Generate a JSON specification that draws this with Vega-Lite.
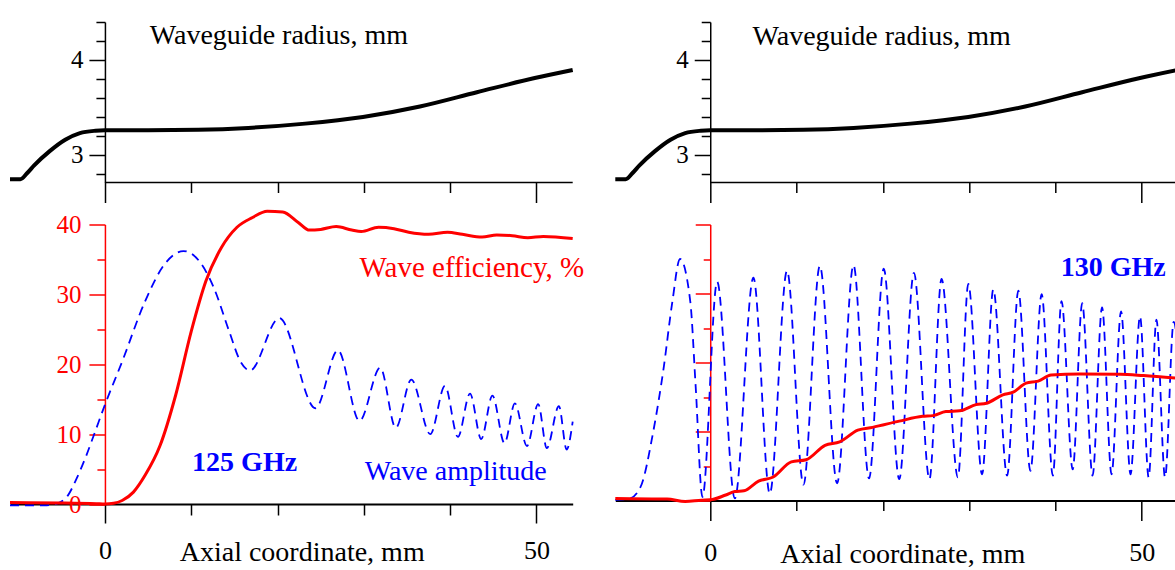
{
  "$schema": "https://vega.github.io/schema/vega-lite/v6.json",
  "padding": {"left": 2, "top": 10, "right": 0, "bottom": 0},
  "background": "white",
  "bounds": "flush",
  "columns": 2,
  "spacing": {"row": 41.5, "column": 42.3},
  "config": {
    "view": {"stroke": null},
    "font": "Liberation Serif",
    "axis": {"grid": false, "labelFont": "Liberation Serif", "titleFont": "Liberation Serif", "labelOverlap": false, "labelFlush": false, "tickCount": 60}
  },
  "datasets": {
    "radius": [
      {"x": -11, "r": 2.745}, {"x": -9.8, "r": 2.745}, {"x": -9.0, "r": 2.81}, {"x": -8.2, "r": 2.89},
      {"x": -6.4, "r": 3.04}, {"x": -4.6, "r": 3.16}, {"x": -2.9, "r": 3.23}, {"x": -1.1, "r": 3.255},
      {"x": 0, "r": 3.26}, {"x": 5, "r": 3.26}, {"x": 10.8, "r": 3.265}, {"x": 16.6, "r": 3.285},
      {"x": 23.2, "r": 3.33}, {"x": 29.9, "r": 3.4}, {"x": 36.5, "r": 3.51}, {"x": 43.1, "r": 3.66},
      {"x": 49.8, "r": 3.81}, {"x": 54.2, "r": 3.895}
    ],
    "eff125": [
      {"x": -11, "v": 0.2}, {"x": -5, "v": 0.15}, {"x": -1, "v": 0.05}, {"x": 0, "v": 0}, {"x": 1, "v": 0.1},
      {"x": 2, "v": 0.5}, {"x": 3.3, "v": 1.7}, {"x": 4.65, "v": 4.1}, {"x": 6.4, "v": 8.4}, {"x": 8.2, "v": 15.6},
      {"x": 10, "v": 24.7}, {"x": 11.7, "v": 31.9}, {"x": 13.5, "v": 36.7}, {"x": 15.3, "v": 39.6}, {"x": 17.1, "v": 41},
      {"x": 18.8, "v": 41.9}, {"x": 20.6, "v": 41.8}, {"x": 22.4, "v": 40.3}, {"x": 23.7, "v": 39.2}, {"x": 25, "v": 39.3},
      {"x": 26.8, "v": 39.7}, {"x": 28.6, "v": 39.2}, {"x": 29.7, "v": 39}, {"x": 31.7, "v": 39.6}, {"x": 33.5, "v": 39.4},
      {"x": 35.2, "v": 38.9}, {"x": 37.5, "v": 38.6}, {"x": 39.7, "v": 38.9}, {"x": 41.4, "v": 38.6}, {"x": 43.7, "v": 38.2},
      {"x": 45.4, "v": 38.5}, {"x": 47.2, "v": 38.4}, {"x": 49, "v": 38.1}, {"x": 50.8, "v": 38.3}, {"x": 54.2, "v": 38}
    ],
    "amp125": [
      {"x": -11, "v": -0.2}, {"x": -7, "v": -0.2}, {"x": -5.5, "v": 0.1}, {"x": -4.3, "v": 1.2}, {"x": -3.3, "v": 3.6},
      {"x": -2.2, "v": 6.8}, {"x": -1.3, "v": 9.8}, {"x": 0, "v": 14.2}, {"x": 2, "v": 20.4}, {"x": 4.65, "v": 29},
      {"x": 6.9, "v": 34.3}, {"x": 9.1, "v": 36.2}, {"x": 10.9, "v": 34.8}, {"x": 12.6, "v": 31}, {"x": 14.4, "v": 24.7},
      {"x": 15.7, "v": 20.4}, {"x": 16.8, "v": 19.1}, {"x": 20.2, "v": 26.6}, {"x": 24.4, "v": 13.7}, {"x": 27.0, "v": 22.0},
      {"x": 29.5, "v": 11.9}, {"x": 31.9, "v": 19.5}, {"x": 33.7, "v": 10.9}, {"x": 35.5, "v": 17.8}, {"x": 37.7, "v": 10.0},
      {"x": 39.4, "v": 16.9}, {"x": 40.9, "v": 9.6}, {"x": 42.3, "v": 15.8}, {"x": 43.6, "v": 9.3}, {"x": 44.9, "v": 15.5},
      {"x": 46.3, "v": 8.7}, {"x": 47.5, "v": 14.4}, {"x": 48.9, "v": 8.3}, {"x": 50.2, "v": 14.3}, {"x": 51.2, "v": 8.0},
      {"x": 52.6, "v": 14.0}, {"x": 53.5, "v": 7.8}, {"x": 54.2, "v": 11.8}
    ],
    "eff130": [
      {"x": -11, "v": 0.3}, {"x": -5, "v": 0.2}, {"x": -2.9, "v": -0.15}, {"x": -1, "v": 0.05}, {"x": 0, "v": 0.1},
      {"x": 1.8, "v": 0.8}, {"x": 2.85, "v": 1.3}, {"x": 3.9, "v": 1.4}, {"x": 5.6, "v": 2.8}, {"x": 7.3, "v": 3.4},
      {"x": 9.4, "v": 5.6}, {"x": 11.1, "v": 5.9}, {"x": 13.3, "v": 8.0}, {"x": 15.0, "v": 8.5}, {"x": 17.1, "v": 10.2},
      {"x": 18.8, "v": 10.6}, {"x": 21.9, "v": 11.5}, {"x": 24.6, "v": 12.2}, {"x": 25.8, "v": 12.3}, {"x": 27.3, "v": 12.9},
      {"x": 28.9, "v": 13.0}, {"x": 30.8, "v": 13.9}, {"x": 32.0, "v": 14.1}, {"x": 33.9, "v": 15.3}, {"x": 35.1, "v": 15.7},
      {"x": 36.6, "v": 17.0}, {"x": 38.0, "v": 17.3}, {"x": 39.5, "v": 18.2}, {"x": 42.8, "v": 18.35}, {"x": 47.5, "v": 18.3},
      {"x": 50.2, "v": 18.1}, {"x": 54.2, "v": 17.7}
    ],
    "amp130": [
      {"x": -11, "v": 0.1}, {"x": -9.5, "v": 0.2}, {"x": -8.1, "v": 1.9}, {"x": -6.6, "v": 10}, {"x": -5.4, "v": 19.2},
      {"x": -4.4, "v": 28.7}, {"x": -3.5, "v": 35.0}, {"x": -2.3, "v": 28.7}, {"x": -1.7, "v": 16.8}, {"x": -0.9, "v": 0.5},
      {"x": 0.8, "v": 31.7}, {"x": 2.85, "v": 0.3}, {"x": 5.0, "v": 32.3}, {"x": 6.9, "v": 1.0}, {"x": 8.9, "v": 33.3},
      {"x": 10.8, "v": 2.3}, {"x": 12.7, "v": 34.0}, {"x": 14.7, "v": 2.5}, {"x": 16.6, "v": 34.1}, {"x": 18.4, "v": 3.2},
      {"x": 20.1, "v": 33.6}, {"x": 21.9, "v": 3.1}, {"x": 23.6, "v": 33.0}, {"x": 25.4, "v": 3.1}, {"x": 26.8, "v": 32.1},
      {"x": 28.7, "v": 3.35}, {"x": 29.9, "v": 31.4}, {"x": 31.5, "v": 3.8}, {"x": 32.8, "v": 30.6}, {"x": 34.4, "v": 3.6},
      {"x": 35.7, "v": 30.4}, {"x": 37.1, "v": 4.3}, {"x": 38.4, "v": 29.9}, {"x": 39.7, "v": 3.6}, {"x": 40.7, "v": 28.9},
      {"x": 42.0, "v": 4.5}, {"x": 43.1, "v": 28.6}, {"x": 44.3, "v": 3.6}, {"x": 45.4, "v": 28.0}, {"x": 46.5, "v": 3.8},
      {"x": 47.6, "v": 27.4}, {"x": 48.7, "v": 3.8}, {"x": 49.8, "v": 26.7}, {"x": 50.8, "v": 3.35}, {"x": 51.7, "v": 26.2},
      {"x": 52.7, "v": 3.35}, {"x": 53.7, "v": 25.9}, {"x": 54.2, "v": 22}
    ]
  },
  "concat": [
    {
      "width": 562.7, "height": 160.5,
      "layer": [
        {
          "data": {"name": "radius"},
          "mark": {"type": "line", "color": "black", "strokeWidth": 4, "interpolate": "monotone"},
          "encoding": {
            "x": {"field": "x", "type": "quantitative", "scale": {"domain": [-11, 54.2], "nice": false, "zero": false},
              "axis": {"title": null, "domain": false, "labels": false, "values": [0, 10, 20, 30, 40, 50], "tickColor": "black", "tickWidth": 1.5,
                "tickSize": {"condition": {"test": "datum.value === 0 || datum.value === 50", "value": 20}, "value": 10}}},
            "y": {"field": "r", "type": "quantitative", "scale": {"domain": [2.71, 4.4], "nice": false, "zero": false},
              "axis": {"title": null, "offset": -94.93, "domainColor": "black", "domainWidth": 1.5, "tickColor": "black", "tickWidth": 1.5,
                "values": [2.8, 3, 3.2, 3.4, 3.6, 3.8, 4, 4.2, 4.4],
                "tickSize": {"condition": {"test": "datum.value === 3 || datum.value === 4", "value": 16}, "value": 9},
                "labelExpr": "datum.value === 3 ? '3' : datum.value === 4 ? '4' : ''",
                "labelFontSize": 25, "labelColor": "black", "labelPadding": 6}}
          }
        },
        {
          "data": {"values": [{"x": 0, "x2": 54.2, "y": 2.71}]},
          "mark": {"type": "rule", "color": "black", "strokeWidth": 1.5},
          "encoding": {"x": {"field": "x", "type": "quantitative"}, "x2": {"field": "x2"}, "y": {"field": "y", "type": "quantitative"}}
        },
        {
          "data": {"values": [{"x": 5.2, "y": 4.167, "label": "Waveguide radius, mm"}]},
          "mark": {"type": "text", "align": "left", "baseline": "alphabetic", "fontSize": 28, "font": "Liberation Serif", "color": "black"},
          "encoding": {"x": {"field": "x", "type": "quantitative"}, "y": {"field": "y", "type": "quantitative"}, "text": {"field": "label"}}
        }
      ]
    },
    {
      "width": 562.7, "height": 160.5,
      "layer": [
        {
          "data": {"name": "radius"},
          "mark": {"type": "line", "color": "black", "strokeWidth": 4, "interpolate": "monotone"},
          "encoding": {
            "x": {"field": "x", "type": "quantitative", "scale": {"domain": [-11, 54.2], "nice": false, "zero": false},
              "axis": {"title": null, "domain": false, "labels": false, "values": [0, 10, 20, 30, 40, 50], "tickColor": "black", "tickWidth": 1.5,
                "tickSize": {"condition": {"test": "datum.value === 0 || datum.value === 50", "value": 20}, "value": 10}}},
            "y": {"field": "r", "type": "quantitative", "scale": {"domain": [2.71, 4.4], "nice": false, "zero": false},
              "axis": {"title": null, "offset": -94.93, "domainColor": "black", "domainWidth": 1.5, "tickColor": "black", "tickWidth": 1.5,
                "values": [2.8, 3, 3.2, 3.4, 3.6, 3.8, 4, 4.2, 4.4],
                "tickSize": {"condition": {"test": "datum.value === 3 || datum.value === 4", "value": 16}, "value": 9},
                "labelExpr": "datum.value === 3 ? '3' : datum.value === 4 ? '4' : ''",
                "labelFontSize": 25, "labelColor": "black", "labelPadding": 6}}
          }
        },
        {
          "data": {"values": [{"x": 0, "x2": 54.2, "y": 2.71}]},
          "mark": {"type": "rule", "color": "black", "strokeWidth": 1.5},
          "encoding": {"x": {"field": "x", "type": "quantitative"}, "x2": {"field": "x2"}, "y": {"field": "y", "type": "quantitative"}}
        },
        {
          "data": {"values": [{"x": 4.9, "y": 4.157, "label": "Waveguide radius, mm"}]},
          "mark": {"type": "text", "align": "left", "baseline": "alphabetic", "fontSize": 28, "font": "Liberation Serif", "color": "black"},
          "encoding": {"x": {"field": "x", "type": "quantitative"}, "y": {"field": "y", "type": "quantitative"}, "text": {"field": "label"}}
        }
      ]
    },
    {
      "width": 562.7, "height": 279.5,
      "layer": [
        {
          "data": {"name": "amp125"},
          "mark": {"type": "line", "color": "#0000ff", "strokeWidth": 1.8, "strokeDash": [9, 6], "interpolate": "monotone"},
          "encoding": {
            "x": {"field": "x", "type": "quantitative", "scale": {"domain": [-11, 54.2], "nice": false, "zero": false},
              "axis": {"title": "Axial coordinate, mm", "values": [0, 10, 20, 30, 40, 50], "domainColor": "black", "domainWidth": 2,
                "tickColor": "black", "tickWidth": 1.5,
                "tickSize": {"condition": {"test": "datum.value === 0 || datum.value === 50", "value": 19}, "value": 11},
                "labelExpr": "datum.value === 0 ? '0' : datum.value === 50 ? '50' : ''",
                "labelFontSize": 26, "labelColor": "black", "labelBaseline": "alphabetic", "labelPadding": 35, "labelDx": -3,
                "titleFontSize": 28, "titleFontWeight": "normal", "titleColor": "black", "titleX": 291.7, "titleY": 56,
                "titleBaseline": "alphabetic", "titleAlign": "center"}},
            "y": {"field": "v", "type": "quantitative", "scale": {"domain": [0, 40], "nice": false, "zero": false},
              "axis": {"title": null, "offset": -94.93, "domainColor": "#ff0000", "domainWidth": 1.5, "tickColor": "#ff0000", "tickWidth": 1.5,
                "values": [0, 5, 10, 15, 20, 25, 30, 35, 40],
                "tickSize": {"condition": {"test": "datum.value % 10 === 0", "value": 16}, "value": 8},
                "labelExpr": "datum.value % 10 === 0 ? format(datum.value, 'd') : ''",
                "labelFontSize": 25, "labelColor": "#ff0000", "labelPadding": 8}}
          }
        },
        {
          "data": {"name": "eff125"},
          "mark": {"type": "line", "color": "#ff0000", "strokeWidth": 3, "interpolate": "monotone"},
          "encoding": {"x": {"field": "x", "type": "quantitative"}, "y": {"field": "v", "type": "quantitative"}}
        },
        {
          "data": {"values": [{"x": 29.5, "y": 32.5, "label": "Wave efficiency, %"}]},
          "mark": {"type": "text", "align": "left", "baseline": "alphabetic", "fontSize": 29, "font": "Liberation Serif", "color": "#ff0000"},
          "encoding": {"x": {"field": "x", "type": "quantitative"}, "y": {"field": "y", "type": "quantitative"}, "text": {"field": "label"}}
        },
        {
          "data": {"values": [{"x": 30.1, "y": 3.47, "label": "Wave amplitude"}]},
          "mark": {"type": "text", "align": "left", "baseline": "alphabetic", "fontSize": 28, "font": "Liberation Serif", "color": "#0000ff"},
          "encoding": {"x": {"field": "x", "type": "quantitative"}, "y": {"field": "y", "type": "quantitative"}, "text": {"field": "label"}}
        },
        {
          "data": {"values": [{"x": 10.1, "y": 4.67, "label": "125 GHz"}]},
          "mark": {"type": "text", "align": "left", "baseline": "alphabetic", "fontSize": 28, "font": "Liberation Serif", "fontWeight": "bold", "color": "#0000ff"},
          "encoding": {"x": {"field": "x", "type": "quantitative"}, "y": {"field": "y", "type": "quantitative"}, "text": {"field": "label"}}
        }
      ]
    },
    {
      "width": 562.7, "height": 276,
      "layer": [
        {
          "data": {"name": "amp130"},
          "mark": {"type": "line", "color": "#0000ff", "strokeWidth": 1.8, "strokeDash": [9, 6], "interpolate": "monotone"},
          "encoding": {
            "x": {"field": "x", "type": "quantitative", "scale": {"domain": [-11, 54.2], "nice": false, "zero": false},
              "axis": {"title": "Axial coordinate, mm", "values": [0, 10, 20, 30, 40, 50], "domainColor": "black", "domainWidth": 2,
                "tickColor": "black", "tickWidth": 1.5,
                "tickSize": {"condition": {"test": "datum.value === 0 || datum.value === 50", "value": 20}, "value": 10},
                "labelExpr": "datum.value === 0 ? '0' : datum.value === 50 ? '50' : ''",
                "labelFontSize": 26, "labelColor": "black", "labelBaseline": "alphabetic", "labelPadding": 40, "labelDx": -3,
                "titleFontSize": 28, "titleFontWeight": "normal", "titleColor": "black", "titleX": 287, "titleY": 61.7,
                "titleBaseline": "alphabetic", "titleAlign": "center"}},
            "y": {"field": "v", "type": "quantitative", "scale": {"domain": [0, 40], "nice": false, "zero": false},
              "axis": {"title": null, "offset": -94.93, "domainColor": "#ff0000", "domainWidth": 1.5, "tickColor": "#ff0000", "tickWidth": 1.5,
                "values": [0, 5, 10, 15, 20, 25, 30, 35, 40], "labels": false,
                "tickSize": {"condition": {"test": "datum.value % 10 === 0", "value": 15}, "value": 7}}}
          }
        },
        {
          "data": {"name": "eff130"},
          "mark": {"type": "line", "color": "#ff0000", "strokeWidth": 3, "interpolate": "monotone"},
          "encoding": {"x": {"field": "x", "type": "quantitative"}, "y": {"field": "v", "type": "quantitative"}}
        },
        {
          "data": {"values": [{"x": 40.6, "y": 32.5, "label": "130 GHz"}]},
          "mark": {"type": "text", "align": "left", "baseline": "alphabetic", "fontSize": 28, "font": "Liberation Serif", "fontWeight": "bold", "color": "#0000ff"},
          "encoding": {"x": {"field": "x", "type": "quantitative"}, "y": {"field": "y", "type": "quantitative"}, "text": {"field": "label"}}
        }
      ]
    }
  ]
}
